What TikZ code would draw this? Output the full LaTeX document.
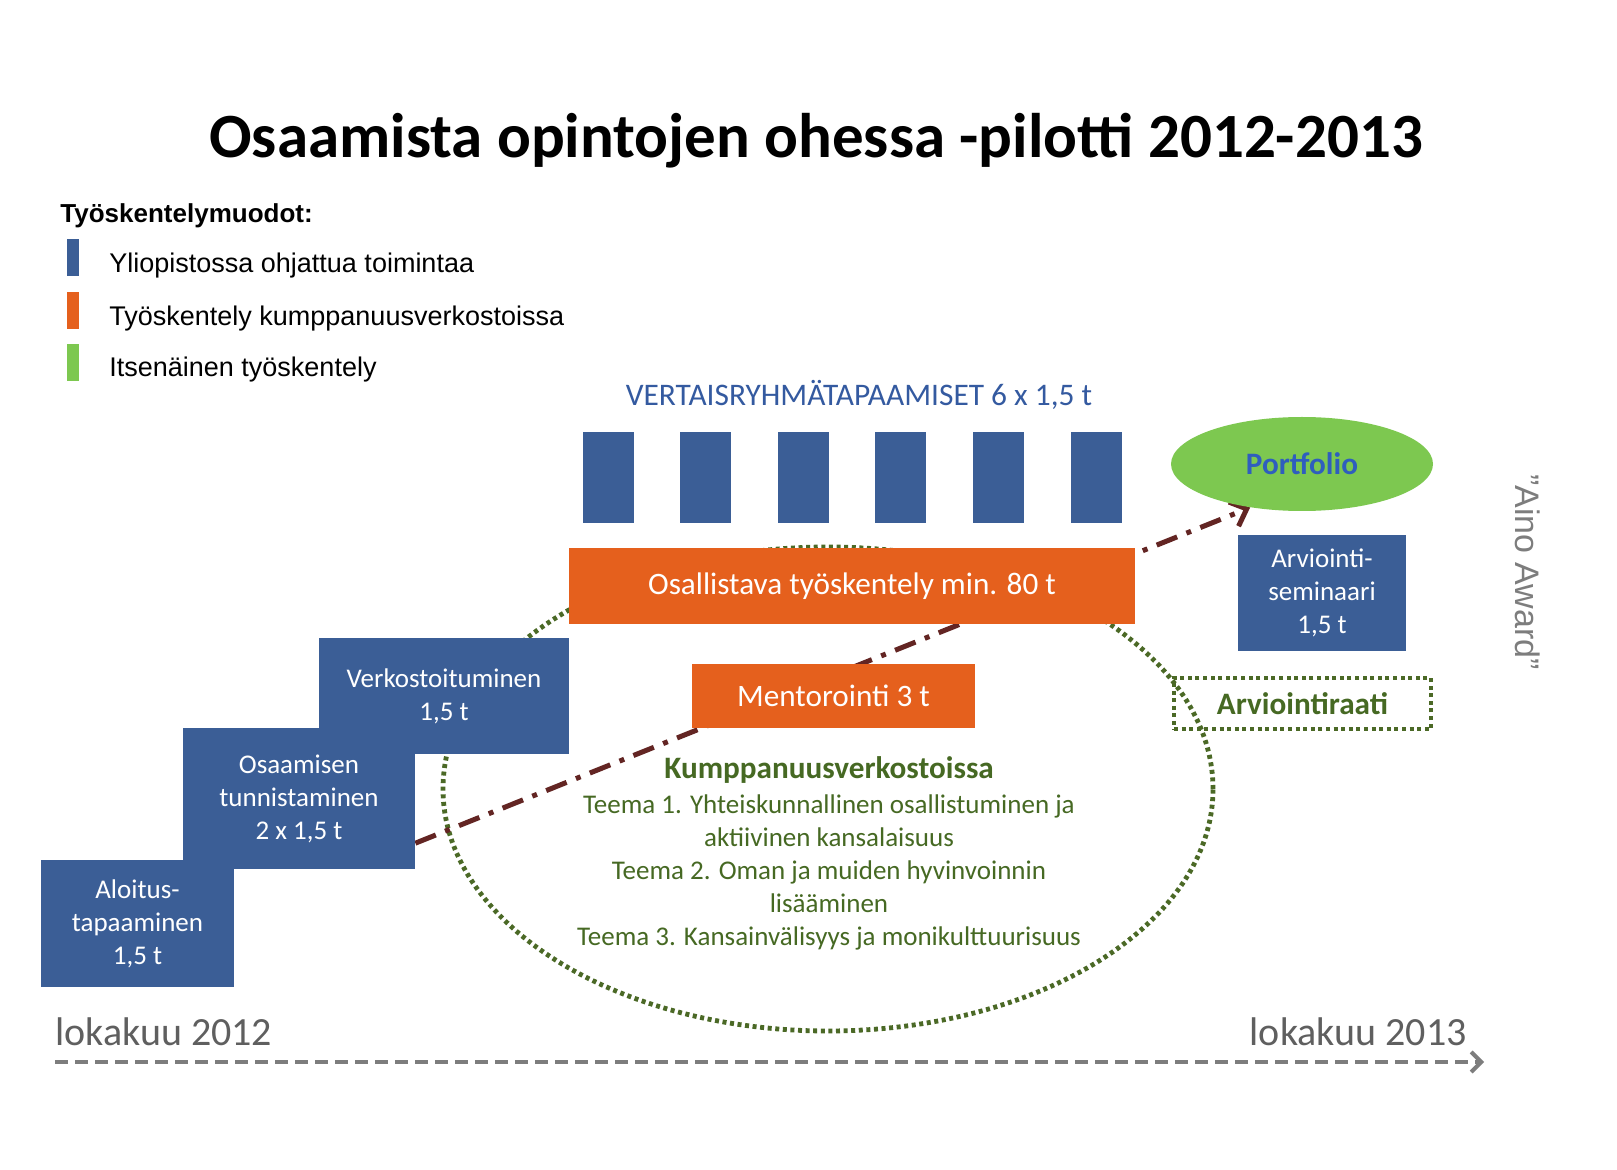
\documentclass[tikz,border=0pt]{standalone}
\usepackage{fontspec}
\setmainfont{Carlito}
\newfontfamily\arialfont{Liberation Sans}
\usetikzlibrary{arrows.meta,shapes.geometric,calc}
\pgfdeclarelayer{background}
\pgfdeclarelayer{canvas}
\pgfsetlayers{canvas,background,main}
\definecolor{ublue}{RGB}{59,94,150}
\definecolor{uorange}{RGB}{229,96,29}
\definecolor{ugreen}{RGB}{125,200,80}
\definecolor{dgreen}{RGB}{70,105,35}
\definecolor{dotgreen}{RGB}{75,105,38}
\definecolor{umaroon}{RGB}{99,37,35}
\definecolor{pblue}{RGB}{47,94,190}
\definecolor{vblue}{RGB}{52,90,160}
\definecolor{tgray}{RGB}{95,95,95}
\definecolor{agray}{RGB}{125,125,125}
\newcommand\fsz[2]{\fontsize{#1}{#2}\selectfont}
\begin{document}
\begin{tikzpicture}[x=0.5pt,y=-0.5pt,
  bluebox/.style={fill=ublue,text=white,inner sep=0pt,align=center,font=\fsz{13.5}{16.5}},
  orangebox/.style={fill=uorange,text=white,inner sep=0pt,font=\fsz{15.6}{18}},
  peer/.style={fill=ublue,minimum width=25.5pt,minimum height=45.5pt,inner sep=0pt},
  legbar/.style={minimum width=6pt,minimum height=18.5pt,inner sep=0pt},
  legtext/.style={anchor=base west,inner sep=0pt,font=\arialfont\fsz{13.5}{16}},
  dotline/.style={draw=dotgreen,line width=2.4pt,dash pattern=on 2pt off 1.8pt},
  ]
\begin{pgfonlayer}{canvas}
\fill[white] (0,0) rectangle (1617,1170);
\end{pgfonlayer}
\useasboundingbox (0,0) rectangle (1617,1170);

% title
\node[anchor=base,inner sep=0pt,font=\fsz{31.5}{36}\bfseries] (title) at (816,158) {Osaamista opintojen ohessa -pilotti 2012-2013};

% legend
\node[anchor=base west,inner sep=0pt,font=\arialfont\bfseries\fsz{13}{15}] (legh) at (60,223) {Työskentelymuodot:};
\node[legbar,fill=ublue] (lb1) at (73,257.5) {};
\node[legbar,fill=uorange] (lb2) at (73,311) {};
\node[legbar,fill=ugreen] (lb3) at (73,362.5) {};
\node[legtext] (lt1) at (109,273) {Yliopistossa ohjattua toimintaa};
\node[legtext] (lt2) at (109,326) {Työskentely kumppanuusverkostoissa};
\node[legtext] (lt3) at (109,377) {Itsenäinen työskentely};

% peer group meetings
\node[anchor=base,inner sep=0pt,text=vblue,font=\fsz{15.7}{18}] (vert) at (859,406) {VERTAISRYHMÄTAPAAMISET 6 x 1,5 t};
\node[peer] (p1) at (608,477.5) {};
\node[peer] (p2) at (705.6,477.5) {};
\node[peer] (p3) at (803.2,477.5) {};
\node[peer] (p4) at (900.8,477.5) {};
\node[peer] (p5) at (998.4,477.5) {};
\node[peer] (p6) at (1096,477.5) {};

% steps
\node[bluebox,minimum width=125pt,minimum height=58pt] (verk) at (444,696) {Verkostoituminen\\1,5 t};
\node[bluebox,minimum width=116pt,minimum height=70.5pt] (osa) at (299,798.5) {Osaamisen\\tunnistaminen\\2 x 1,5 t};
\node[bluebox,minimum width=96.5pt,minimum height=63.5pt] (alo) at (137.5,923.5) {Aloitus-\\tapaaminen\\1,5 t};

% orange boxes
\node[orangebox,minimum width=283pt,minimum height=38pt] (osall) at (852,586) {Osallistava työskentely min. 80 t};
\node[orangebox,minimum width=141.5pt,minimum height=32pt] (ment) at (833.5,696) {Mentorointi 3 t};

% portfolio and evaluation
\node[ellipse,fill=ugreen,minimum width=131pt,minimum height=47pt,inner sep=0pt,text=pblue,font=\fsz{15.6}{18}\bfseries] (port) at (1302,464) {Portfolio};
\node[bluebox,minimum width=84pt,minimum height=58pt] (sem) at (1322,593) {Arviointi-\\seminaari\\1,5 t};
\node[dotline,minimum width=128.5pt,minimum height=25.5pt,inner sep=0pt,text=dgreen,font=\fsz{15.6}{18}\bfseries] (raati) at (1302.5,703.5) {Arviointiraati};
\node[rotate=-90,inner sep=0pt,text=agray,font=\arialfont\fsz{17}{20}] (aino) at (1528,572) {”Aino Award”};

% partnership text
\node[anchor=base,align=center,inner sep=0pt,text=dgreen,font=\fsz{13.5}{16.5}] (kumptext) at (829,945)
  {{\fsz{15.6}{16.5}\bfseries Kumppanuusverkostoissa}\\[1pt]
   Teema 1. Yhteiskunnallinen osallistuminen ja\\
   aktiivinen kansalaisuus\\
   Teema 2. Oman ja muiden hyvinvoinnin\\
   lisääminen\\
   Teema 3. Kansainvälisyys ja monikulttuurisuus};

% timeline
\node[anchor=base west,inner sep=0pt,text=tgray,font=\fsz{20}{24}] (t0) at (55,1045) {lokakuu 2012};
\node[anchor=base east,inner sep=0pt,text=tgray,font=\fsz{20}{24}] (t1) at (1467,1045) {lokakuu 2013};
\coordinate (tl0) at (55,1062);
\coordinate (tl1) at (1484,1062);
\draw[agray,line width=2pt,dash pattern=on 6.5pt off 3.5pt,-{Straight Barb[length=5pt,width=10pt,line width=2pt]}] (tl0) -- (tl1);

\begin{pgfonlayer}{background}
\node[ellipse,dotline,minimum width=385pt,minimum height=242pt,inner sep=0pt] (kumpell) at (828,789) {};
\draw[umaroon,line width=2.5pt,dash pattern=on 11pt off 5pt on 2.5pt off 5pt,-{Straight Barb[length=7pt,width=13pt]}] (osa.-21.4) -- (port.220);
\end{pgfonlayer}
\end{tikzpicture}
\end{document}
